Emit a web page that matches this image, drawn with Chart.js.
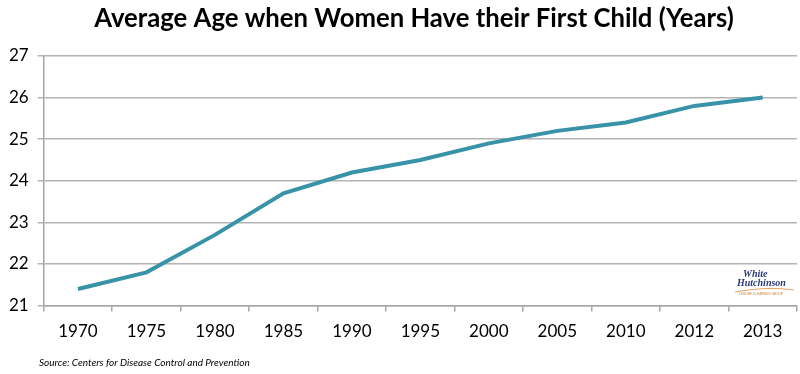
<!DOCTYPE html>
<html><head><meta charset="utf-8">
<script src="https://cdn.jsdelivr.net/npm/chart.js@4.4.0/dist/chart.umd.min.js"></script>
<style>html,body{margin:0;padding:0;background:#fff;}#wrap{width:800px;height:374px;}</style>
</head><body><div id="wrap"><canvas id="c" width="800" height="374"></canvas></div>
<script>
const categories = ["1970","1975","1980","1985","1990","1995","2000","2005","2010","2012","2013"];
const averageAge = [21.4, 21.8, 22.7, 23.7, 24.2, 24.5, 24.9, 25.2, 25.4, 25.8, 26.0];
const yTicks = [21, 22, 23, 24, 25, 26, 27];
const titleText = "Average Age when Women Have their First Child (Years)";
const sourceText = "Source: Centers for Disease Control and Prevention";

const extras = {
  id: 'extras',
  afterDraw(chart) {
    const ctx = chart.ctx, a = chart.chartArea;
    ctx.save();
    // title
    ctx.fillStyle = '#000';
    ctx.font = 'bold 25.7px Lato, sans-serif';
    ctx.textAlign = 'center'; ctx.textBaseline = 'middle';
    ctx.fillText(titleText, 414, 19);
    // source
    ctx.font = 'italic 10px Lato, sans-serif';
    ctx.textAlign = 'left';
    ctx.fillText(sourceText, 39, 363);
    // logo
    ctx.fillStyle = '#2b3a7a';
    ctx.font = 'italic bold 10px "Liberation Serif", serif';
    ctx.fillText('White', a.right - 54, 274);
    ctx.fillText('Hutchinson', a.right - 60, 283);
    ctx.strokeStyle = '#e8a060'; ctx.lineWidth = 1;
    ctx.beginPath(); ctx.moveTo(a.right - 62, 292); ctx.quadraticCurveTo(a.right - 30, 286, a.right - 3, 290); ctx.stroke();
    ctx.fillStyle = '#d08040';
    ctx.font = '3px sans-serif';
    ctx.fillText('LEISURE & LEARNING GROUP', a.right - 58, 294);
    ctx.restore();
  }
};

new Chart(document.getElementById('c'), {
  type: 'line',
  data: {
    labels: categories,
    datasets: [{
      data: averageAge,
      borderColor: '#3893a8',
      borderWidth: 4,
      pointRadius: 0,
      tension: 0,
      fill: false
    }]
  },
  options: {
    responsive: false,
    animation: false,
    devicePixelRatio: 1,
    layout: { padding: { left: 0, right: 3, top: 56, bottom: 22 } },
    plugins: {
      legend: { display: false },
      tooltip: { enabled: false },
      title: { display: false }
    },
    scales: {
      x: {
        offset: true,
        grid: { offset: true, drawOnChartArea: false, drawTicks: true, tickLength: 6, color: '#a6a6a6', lineWidth: 1.5 },
        border: { color: '#a6a6a6', width: 1.5 },
        ticks: { color: '#000', font: { family: 'Lato, sans-serif', size: 17 }, padding: 10, maxRotation: 0, autoSkip: false }
      },
      y: {
        min: 21, max: 27,
        afterBuildTicks(scale) { scale.ticks = yTicks.map(v => ({ value: v })); },
        grid: { color: '#b3b3b3', lineWidth: 1.5, tickLength: 6 },
        border: { color: '#a6a6a6', width: 1.5 },
        ticks: { color: '#000', font: { family: 'Lato, sans-serif', size: 17 }, padding: 9 }
      }
    }
  },
  plugins: [extras]
});
</script>
</body></html>
